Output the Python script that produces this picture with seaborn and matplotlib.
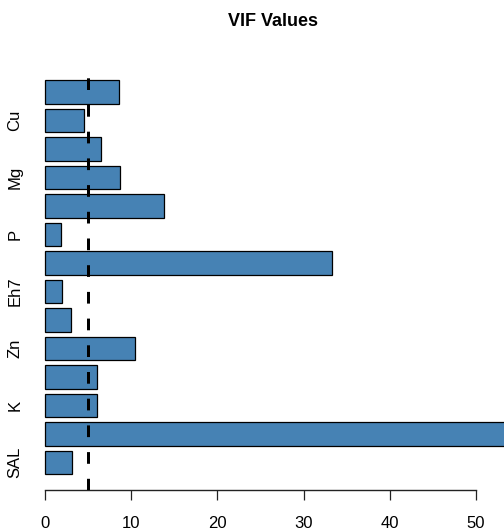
import numpy as np
import pandas as pd
import matplotlib
matplotlib.use("Agg")
import matplotlib.pyplot as plt
import seaborn as sns

# VIF per predictor, listed from top bar to bottom bar
terms = ["t14", "Cu", "t12", "Mg", "t10", "P", "t8", "Eh7", "t6", "Zn", "t4", "K", "t2", "SAL"]
tick_labels = ["", "Cu", "", "Mg", "", "P", "", "Eh7", "", "Zn", "", "K", "", "SAL"]
vif = [8.62, 4.49, 6.46, 8.74, 13.84, 1.89, 33.3, 2.0, 3.05, 10.48, 6.07, 6.0, 60.0, 3.17]
threshold = 5
x_ticks = [0, 10, 20, 30, 40, 50]

df = pd.DataFrame({"term": terms, "vif": vif})

sns.set_style("white")
plt.rcParams["font.family"] = ["Liberation Sans", "DejaVu Sans"]
plt.rcParams["text.color"] = "black"
plt.rcParams["xtick.color"] = "black"
plt.rcParams["ytick.color"] = "black"

W, H = 504, 530
fig = plt.figure(figsize=(W / 100, H / 100), dpi=100)
left_px, right_px, top_px, bottom_px = 27.8, 504, 64, 490
ax = fig.add_axes([left_px / W, (H - bottom_px) / H,
                   (right_px - left_px) / W, (bottom_px - top_px) / H])

sns.barplot(data=df, x="vif", y="term", orient="h", order=terms,
            color="#4682B4", saturation=1, width=0.825,
            edgecolor="black", linewidth=0.9, ax=ax)

ax.axvline(threshold, color="black", lw=2.16,
           linestyle=(0, (3.9, 5.0)), zorder=5)

# x scale: 0 at px 45, 8.62 px per unit
ppu = 8.62
ax.set_xlim((left_px - 45) / ppu, (right_px - 45) / ppu)
ax.set_ylim(13.965, -0.982)

for s in ["top", "right", "left"]:
    ax.spines[s].set_visible(False)
ax.spines["bottom"].set_bounds(0, 50)
ax.spines["bottom"].set_color("#222222")
ax.spines["bottom"].set_linewidth(1.0)

ax.set_xticks(x_ticks)
ax.set_xticklabels([str(t) for t in x_ticks])
ax.tick_params(axis="x", length=7.2, width=0.9, color="#222222",
               pad=11.5, labelsize=12, labelcolor="black", bottom=True)
ax.set_yticks(range(len(terms)))
ax.set_yticklabels(tick_labels, rotation=90, va="center")
ax.tick_params(axis="y", length=0, pad=4.0, labelsize=12, labelcolor="black")
ax.set_xlabel("")
ax.set_ylabel("")

fig.text(273 / W, 1 - 26 / H, "VIF Values", ha="center", va="baseline",
         fontsize=13, fontweight="bold", color="black")

fig.savefig("out.png", dpi=100)
